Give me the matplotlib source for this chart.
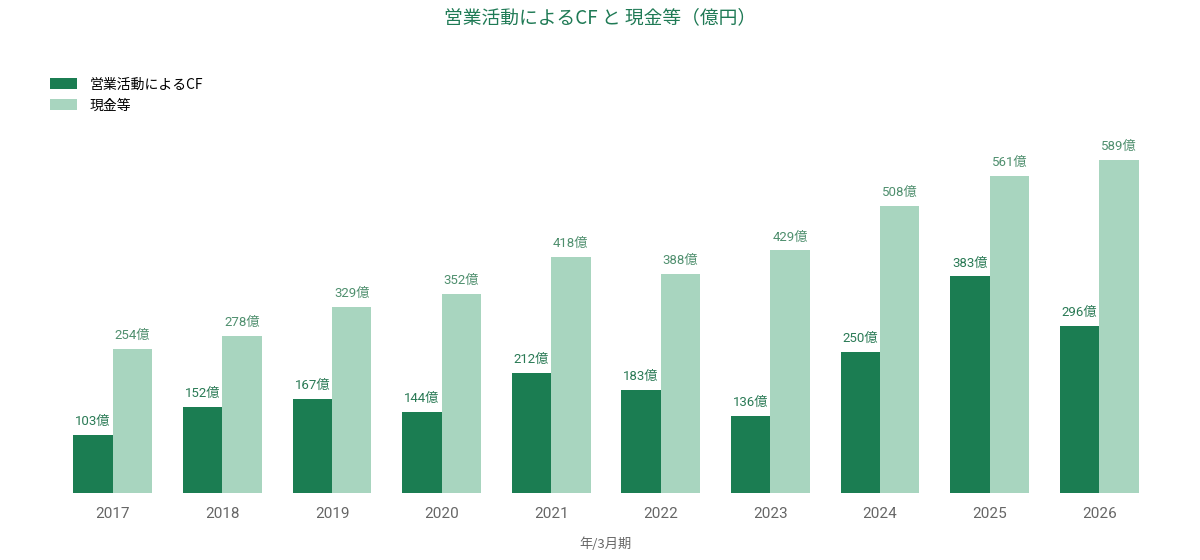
import matplotlib
matplotlib.use("Agg")
import matplotlib.pyplot as plt
import numpy as np

plt.rcParams['font.family'] = ['Noto Sans CJK JP', 'DejaVu Sans']
num_font = ['Roboto', 'Noto Sans CJK JP']

years = ["2017", "2018", "2019", "2020", "2021", "2022", "2023", "2024", "2025", "2026"]
cf = [103, 152, 167, 144, 212, 183, 136, 250, 383, 296]
cash = [254, 278, 329, 352, 418, 388, 429, 508, 561, 589]

dark = "#1b7d52"
light = "#a8d5bf"

W, H = 1200, 560
fig = plt.figure(figsize=(12, 5.6), dpi=100)
# axes box in pixels: left 58, right 1154, bottom 493, top 126
ax = fig.add_axes([58 / W, (H - 493) / H, (1154 - 58) / W, (493 - 126) / H])

x = np.arange(len(years))
bw = 0.36
b1 = ax.bar(x - bw / 2, cf, bw, color=dark, label="営業活動によるCF")
b2 = ax.bar(x + bw / 2, cash, bw, color=light, label="現金等")

for xi, v in zip(x, cf):
    ax.annotate(f"{v}億", (xi - bw / 2, v), xytext=(0, 5), textcoords="offset points",
                ha="center", va="bottom", fontsize=9.5, color="#2a7a55", family=num_font)
for xi, v in zip(x, cash):
    ax.annotate(f"{v}億", (xi + bw / 2, v), xytext=(0, 5), textcoords="offset points",
                ha="center", va="bottom", fontsize=9.5, color="#4f8f6e", family=num_font)

ax.set_xlim(-0.5, len(years) - 0.5)
ax.set_ylim(0, 649)
ax.set_xticks(x)
ax.set_xticklabels(years, fontsize=11, color="#666666", family=num_font)
ax.tick_params(axis="x", length=0, pad=10)
ax.set_yticks([])
for s in ax.spines.values():
    s.set_visible(False)

ax.set_xlabel("年/3月期", fontsize=9.5, color="#666666", labelpad=12)

fig.text(0.5, 1 - 18 / H, "営業活動によるCF と 現金等（億円）", ha="center", va="center",
         fontsize=13.5, color="#1f7a55")

fig.legend(handles=[b1, b2], loc="upper left", bbox_to_anchor=(44 / W, 1 - 72 / H),
           frameon=False, fontsize=10, handlelength=2.0, handleheight=0.8,
           labelspacing=0.5, handletextpad=0.9, borderaxespad=0)

fig.savefig("out.png", dpi=100)
